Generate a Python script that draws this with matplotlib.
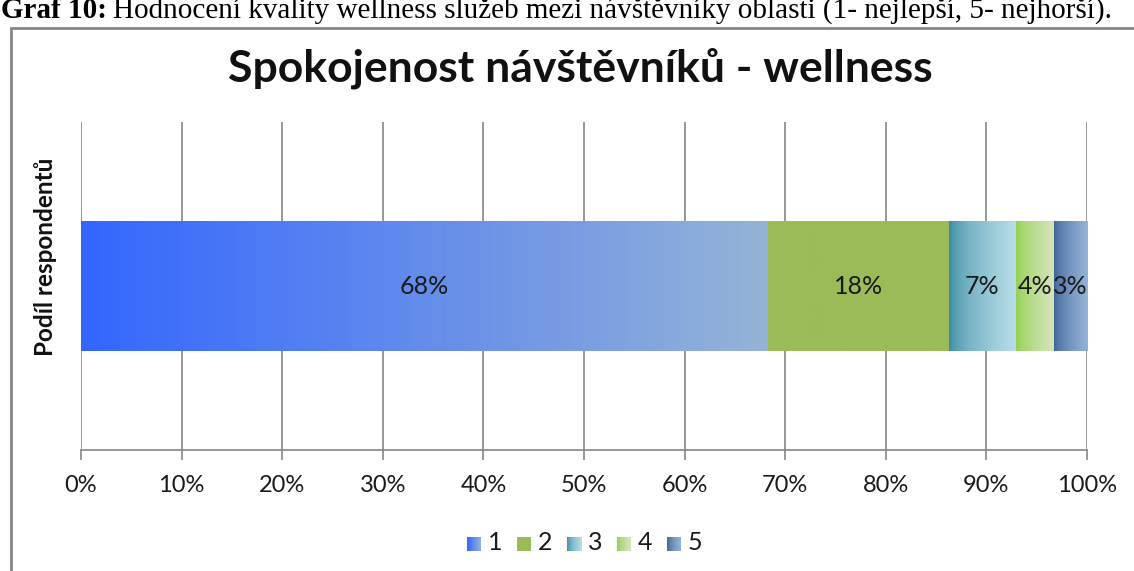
import numpy as np
import matplotlib
matplotlib.use("Agg")
import matplotlib.pyplot as plt
from matplotlib.colors import to_rgb
from matplotlib.patches import Rectangle

# ---- data ----
categories = ["1", "2", "3", "4", "5"]
shares = [68.3, 18.0, 6.6, 3.8, 3.3]          # percent of respondents
labels = ["68%", "18%", "7%", "4%", "3%"]
xticks = [0, 10, 20, 30, 40, 50, 60, 70, 80, 90, 100]
xticklabels = [f"{t}%" for t in xticks]
title = "Spokojenost návštěvníků - wellness"
ylabel = "Podíl respondentů"
caption_bold = "Graf 10:"
caption_rest = "Hodnocení kvality wellness služeb mezi návštěvníky oblasti (1- nejlepší, 5- nejhorší)."

# gradient (start colour, end colour, gamma of transition)
fills = [("#3366FF", "#95B3D7", 1.0),
         ("#9BBB59", "#9BBB59", 1.0),
         ("#31859C", "#B7DEE8", 0.55),
         ("#92D050", "#D7E4BD", 0.7),
         ("#3A5E94", "#95B3D7", 0.6)]

FONT = "Lato"
W, H = 1134, 571
fig = plt.figure(figsize=(W / 100, H / 100), dpi=100)

def grad(c0, c1, g, n=256):
    t = np.linspace(0, 1, n) ** g
    a, b = np.array(to_rgb(c0)), np.array(to_rgb(c1))
    return (a[None, :] * (1 - t[:, None]) + b[None, :] * t[:, None])[None, :, :]

# outer chart frame
fig.patches.append(Rectangle((11 / W, -0.1), 1.2, 1 - 28 / H + 0.1, transform=fig.transFigure,
                             fill=False, edgecolor="#868686", linewidth=2))

# caption (partially cut at top)
fig.text(1 / W, 1 - 18 / H, caption_bold, family="Liberation Serif", fontweight="bold",
         fontsize=21, va="baseline", ha="left")
fig.text(113 / W, 1 - 18 / H, caption_rest, family="Liberation Serif",
         fontsize=21, va="baseline", ha="left")

ax = fig.add_axes([81 / W, 1 - 450 / H, (1087 - 81) / W, (450 - 122) / H])
bar_h = 0.79
left = 0.0
for val, (c0, c1, g), lab in zip(shares, fills, labels):
    ax.imshow(grad(c0, c1, g), extent=(left, left + val, -bar_h / 2, bar_h / 2),
              aspect="auto", zorder=2, interpolation="bilinear")
    ax.text(left + val / 2, 0, lab, ha="center", va="center", fontsize=18,
            family=FONT, color="#1a1a1a", zorder=3)
    left += val

ax.set_xlim(0, 100)
ax.set_ylim(-1, 1)
ax.set_xticks(xticks)
ax.set_xticklabels(xticklabels, family=FONT, fontsize=17, color="#1a1a1a")
ax.set_yticks([])
ax.set_axisbelow(True)
ax.grid(axis="x", color="#868686", linewidth=1.2)
for s in ["top", "right", "left"]:
    ax.spines[s].set_visible(False)
ax.spines["bottom"].set_color("#868686")
ax.spines["bottom"].set_linewidth(1.2)
ax.tick_params(axis="x", direction="out", length=7, width=1.2, color="#868686", pad=11)

fig.text(580 / W, 1 - 68 / H, title, family=FONT, fontweight="bold", fontsize=32,
         ha="center", va="center", color="#111111")
fig.text(46 / W, 1 - 257 / H, ylabel, family=FONT, fontweight="bold", fontsize=17.5,
         rotation=90, ha="center", va="center", color="#111111")

# legend (manual, gradient swatches)
x0 = 467
for i, (cat, (c0, c1, g)) in enumerate(zip(categories, fills)):
    xs = x0 + i * 50
    lax = fig.add_axes([xs / W, 1 - 551 / H, 14 / W, 14 / H])
    lax.imshow(grad(c0, c1, g), extent=(0, 1, 0, 1), aspect="auto", interpolation="bilinear")
    lax.set_axis_off()
    fig.text((xs + 21) / W, 1 - 543 / H, cat, family=FONT, fontsize=18, ha="left",
             va="center", color="#1a1a1a")

fig.savefig("out.png", dpi=100)
